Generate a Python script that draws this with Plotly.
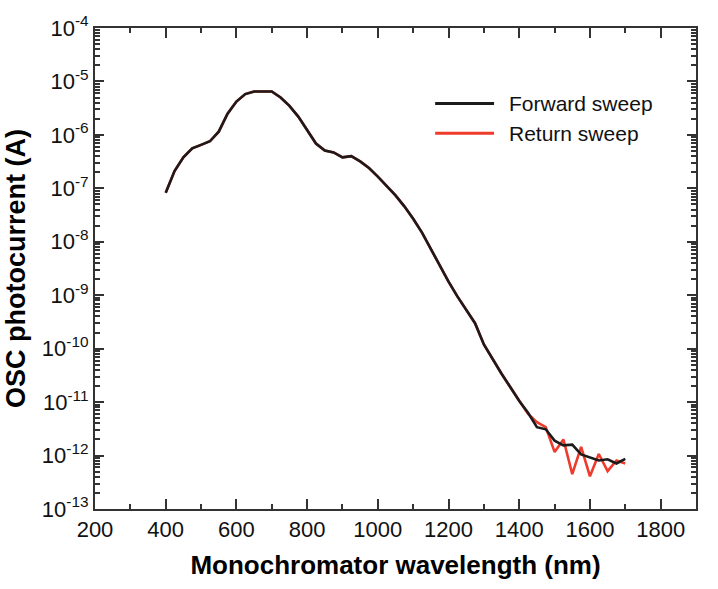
import plotly.graph_objects as go

wavelength_fwd = [400, 425, 450, 475, 500, 525, 550, 575, 600, 625, 650, 675, 700, 725, 750,
                  775, 800, 825, 850, 875, 900, 925, 950, 975, 1000, 1025, 1050, 1075, 1100,
                  1125, 1150, 1175, 1200, 1225, 1250, 1275, 1300, 1325, 1350, 1375, 1400,
                  1425, 1450, 1475, 1500, 1525, 1550, 1575, 1600, 1625, 1650, 1675, 1700]
current_fwd = [8.3e-8, 2.1e-7, 3.8e-7, 5.6e-7, 6.5e-7, 7.6e-7, 1.15e-6, 2.5e-6, 4.2e-6, 5.8e-6,
               6.5e-6, 6.6e-6, 6.5e-6, 5.0e-6, 3.5e-6, 2.2e-6, 1.26e-6, 6.9e-7, 5.1e-7, 4.7e-7,
               3.8e-7, 4.0e-7, 3.2e-7, 2.4e-7, 1.66e-7, 1.12e-7, 7.4e-8, 4.6e-8, 2.7e-8, 1.48e-8,
               7.2e-9, 3.5e-9, 1.8e-9, 9.5e-10, 5.4e-10, 3.0e-10, 1.2e-10, 6.3e-11, 3.4e-11,
               1.9e-11, 1.05e-11, 6.3e-12, 3.4e-12, 3.1e-12, 1.9e-12, 1.55e-12, 1.6e-12, 1.05e-12,
               9.3e-13, 8.1e-13, 8.5e-13, 7.1e-13, 8.7e-13]

wavelength_ret = wavelength_fwd
current_ret = current_fwd[:40] + [1.05e-11, 6.0e-12, 4.2e-12, 3.4e-12, 1.17e-12, 2.0e-12, 4.5e-13,
                                  1.45e-12, 4.1e-13, 1.07e-12, 5.1e-13, 8.1e-13, 7.1e-13]

x_ticks = [200, 400, 600, 800, 1000, 1200, 1400, 1600, 1800]
y_exps = list(range(-13, -3))
y_tickvals = [10.0 ** e for e in y_exps]
y_ticktext = ["10<sup>%d</sup>" % e for e in y_exps]

series_names = ["Forward sweep", "Return sweep"]
BLACK = "#1c1a1a"
RED = "#ee3b2b"
FONT = "Liberation Sans Narrow, Arial Narrow, Liberation Sans, sans-serif"

fig = go.Figure()
fig.add_trace(go.Scatter(x=wavelength_ret, y=current_ret, mode="lines",
                         line=dict(color=RED, width=2.6), name=series_names[1], showlegend=False))
fig.add_trace(go.Scatter(x=wavelength_fwd, y=current_fwd, mode="lines",
                         line=dict(color=BLACK, width=2.6), name=series_names[0], showlegend=False))

axis_common = dict(showline=True, linecolor="#333333", linewidth=2, mirror="allticks",
                   ticks="inside", tickcolor="#333333", tickwidth=1.5, showgrid=False,
                   zeroline=False, tickfont=dict(family=FONT, size=22, color="#111111"))

fig.update_xaxes(range=[200, 1900], tickvals=x_ticks, ticklen=10,
                 minor=dict(dtick=100, tick0=200, ticks="inside", ticklen=5, tickcolor="#333333", showgrid=False),
                 title=dict(text="<b>Monochromator wavelength (nm)</b>",
                            font=dict(family=FONT, size=26, color="#000000"), standoff=14),
                 **axis_common)
fig.update_yaxes(type="log", range=[-13, -4], tickvals=y_tickvals, ticktext=y_ticktext, ticklen=9,
                 minor=dict(dtick="D1", ticks="inside", ticklen=5, tickcolor="#333333", showgrid=False),
                 title=dict(text="<b>OSC photocurrent (A)</b>",
                            font=dict(family=FONT, size=27, color="#000000"), standoff=8),
                 **axis_common)

# legend drawn manually (longer sample lines as in the reference)
legend_rows = [(series_names[0], BLACK, 0.843), (series_names[1], RED, 0.781)]
for name, color, yy in legend_rows:
    fig.add_shape(type="line", xref="paper", yref="paper", x0=0.566, x1=0.664, y0=yy, y1=yy,
                  line=dict(color=color, width=3))
    fig.add_annotation(text=name, xref="paper", yref="paper", x=0.686, y=yy, xanchor="left",
                       yanchor="middle", showarrow=False,
                       font=dict(family=FONT, size=21, color="#111111"))

fig.update_layout(width=718, height=589, margin=dict(l=95, r=22, t=24, b=80),
                  plot_bgcolor="white", paper_bgcolor="white", showlegend=False)

fig.write_html("out.html")
